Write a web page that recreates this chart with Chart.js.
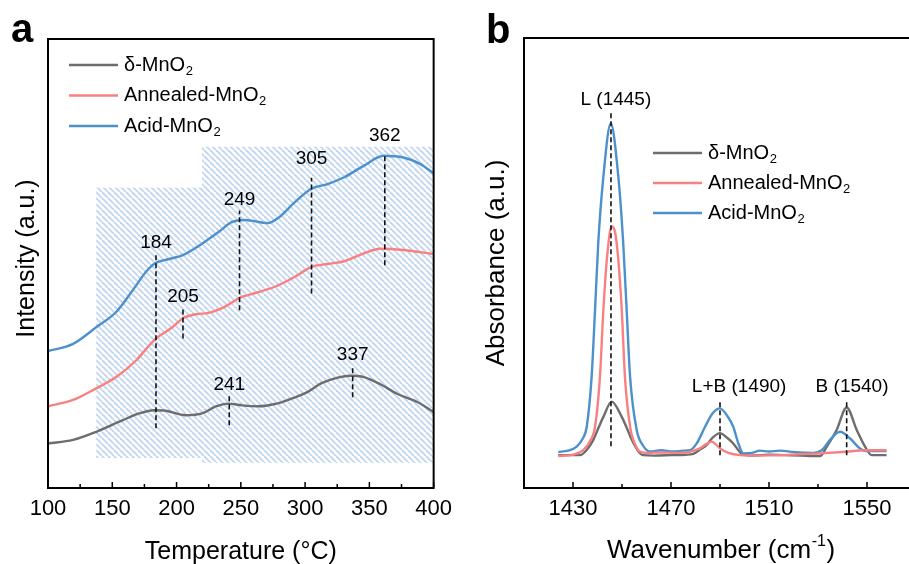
<!DOCTYPE html>
<html lang="en">
<head>
<meta charset="UTF-8">
<title>MnO2 NH3-TPD and Py-IR</title>
<script src="https://cdn.jsdelivr.net/npm/chart.js"></script>
<style>
  html, body { margin: 0; padding: 0; background: #fff; overflow: hidden; }
  #wrap { position: relative; width: 909px; height: 564px; overflow: hidden; }
  #chartA { position: absolute; left: 0; top: 0; }
  #chartB { position: absolute; left: 480px; top: 0; }
</style>
</head>
<body>
<div id="wrap">
  <canvas id="chartA" width="460" height="564"></canvas>
  <canvas id="chartB" width="450" height="564"></canvas>
</div>
<script>
// ---------- shared ----------
var seriesNames = ['δ-MnO2', 'Annealed-MnO2', 'Acid-MnO2'];
var seriesColors = ['#6d6d6d', '#f98080', '#4d91cc'];
var FONT = '"Liberation Sans", Arial, sans-serif';

// ---------- panel a : temperature programmed desorption ----------
var tempTicks = [100, 150, 200, 250, 300, 350, 400];
var tempMinor = [125, 175, 225, 275, 325, 375];

var tempGray = [100, 119.5, 137.5, 158.1, 170.9, 182.5, 191.5, 207, 219.8, 230.1, 240.4, 250.7, 263.6, 276.4, 289.3, 302.1, 312.4, 325.3, 335.6, 345.8, 358.6, 371.5, 386.9, 400];
var intGray  = [9.9, 10.7, 12.5, 15.1, 16.6, 17.3, 17.2, 16.2, 16.6, 18.1, 18.8, 18.4, 18.2, 18.7, 19.9, 21.4, 23.3, 24.6, 25.0, 24.7, 23.1, 21.0, 19.2, 16.9];

var tempRed = [100, 119.5, 137.5, 153, 168.5, 182.5, 196.7, 204.4, 214.7, 224.9, 237.8, 249.4, 263.5, 278.9, 291.8, 304.6, 317.5, 330.4, 343.2, 358.6, 376.6, 400];
var intRed  = [18.2, 19.6, 22.2, 24.7, 28.4, 32.9, 35.8, 37.7, 38.7, 39.0, 40.4, 42.4, 43.6, 45.1, 47.0, 49.2, 49.9, 50.5, 52.0, 53.3, 53.0, 52.1];

var tempBlue = [100, 119.5, 137.5, 153, 165.8, 176.1, 182.5, 194.1, 204.4, 219.8, 232.6, 242.9, 253.2, 271.2, 278.9, 291.8, 304.6, 317.5, 330.4, 345.8, 361.2, 376.6, 389.4, 400];
var intBlue  = [30.5, 32.1, 35.8, 39.2, 44.0, 48.1, 49.9, 51.0, 51.8, 54.4, 57.0, 59.2, 59.7, 59.0, 60.1, 63.6, 66.6, 67.7, 69.2, 71.8, 74.0, 73.6, 72.2, 70.1];

// peak markers
var peakT      = [184, 205, 249, 305, 362, 241, 337];
var peakTop    = [52.4, 40.2, 61.8, 69.1, 74.4, 20.7, 27.3];
var peakBottom = [13.3, 33.3, 39.6, 43.3, 49.6, 14.0, 20.2];
var peakLabelY = [54.7, 42.7, 64.2, 73.3, 78.4, 22.9, 29.6];

// hatched regions
var hatchFrom   = [137.5, 219.8];
var hatchTo     = [219.8, 400];
var hatchTop    = [66.9, 76.0];
var hatchBottom = [6.7, 5.6];

// ---------- panel b : pyridine IR ----------
var wnTicks = [1430, 1470, 1510, 1550];
var wnMinor = [1450, 1490, 1530];

var wnGray  = [1424, 1429, 1432.9, 1435.5, 1438.3, 1440.5, 1442.4, 1445.8, 1449.9, 1452, 1454.0, 1456.5, 1458.7, 1463, 1470, 1476, 1479.1, 1482, 1484.6, 1487, 1490.0, 1493, 1495.4, 1498.9, 1503, 1510, 1516, 1523, 1528.1, 1530.8, 1533.6, 1537.6, 1541.7, 1545.8, 1549.2, 1551.9, 1555, 1558];
var absGray = [7.3, 7.3, 7.3, 8.4, 10.7, 13.5, 15.8, 19.2, 15.8, 13.3, 10.7, 8.3, 7.3, 7.2, 7.3, 7.4, 7.6, 8.6, 9.6, 11.2, 12.2, 11.1, 9.9, 7.6, 7.2, 7.4, 7.3, 7.2, 7.1, 7.1, 9.2, 12.9, 17.9, 12.9, 9.2, 7.3, 7.3, 7.3];

var wnRed  = [1424, 1430, 1434.2, 1437, 1439.0, 1441.0, 1442.4, 1443.8, 1445.8, 1447.2, 1448.5, 1449.9, 1451.2, 1453.3, 1455.5, 1457.3, 1461, 1466, 1472, 1478, 1481.8, 1484.5, 1486.6, 1488.5, 1490.0, 1493.4, 1498.2, 1505, 1514.5, 1522, 1530.8, 1540, 1549.9, 1558];
var absRed = [7.1, 7.4, 8.4, 10.5, 13.6, 24.7, 39.6, 50.7, 58.1, 56.8, 50.7, 39.6, 24.7, 13.6, 9.5, 8.1, 7.8, 7.9, 7.8, 8.1, 8.8, 9.8, 10.3, 9.6, 8.8, 7.8, 7.3, 7.2, 7.3, 7.5, 7.7, 8.0, 8.4, 8.4];

var wnBlue  = [1424, 1428, 1431.5, 1434, 1435.6, 1437.6, 1439.0, 1440.3, 1442.4, 1445.4, 1448.5, 1450.5, 1451.9, 1453.3, 1456.0, 1458.5, 1461.4, 1466, 1470.8, 1475, 1477.8, 1480.5, 1483.9, 1487, 1490.0, 1493, 1495.4, 1497.5, 1499.5, 1503, 1506.3, 1510, 1514.5, 1520, 1528.1, 1531.5, 1534.9, 1539.0, 1543.1, 1547.1, 1549.9, 1554, 1558];
var absBlue = [8.0, 8.3, 9.2, 11.0, 13.6, 24.7, 39.6, 54.4, 69.2, 81.0, 69.2, 54.4, 39.6, 24.7, 12.9, 9.5, 8.1, 8.4, 8.1, 8.3, 8.4, 9.9, 13.6, 16.6, 17.7, 16.0, 13.6, 9.9, 7.7, 7.8, 8.3, 8.1, 8.3, 8.0, 7.8, 8.4, 10.7, 12.5, 11.0, 8.8, 8.2, 8.2, 8.2];

var bandWn     = [1445.5, 1490, 1541.7];
var bandTop    = [83.3, 19.6, 19.6];
var bandBottom = [9.3, 7.3, 7.3];
var bandLabels = ['L (1445)', 'L+B (1490)', 'B (1540)'];
var bandLabelX = [1447.5, 1497.8, 1543.9];
var bandLabelY = [86.2, 22.4, 22.4];

// ---------- helpers ----------
function pts(xs, ys) {
  return xs.map(function (x, i) { return { x: x, y: ys[i] }; });
}

function curve(name, color, xs, ys) {
  return {
    label: name, data: pts(xs, ys), borderColor: color, borderWidth: 2.4,
    pointRadius: 0, cubicInterpolationMode: 'monotone', fill: false, order: 1
  };
}

function dashLine(x, y0, y1) {
  return {
    label: 'marker', data: [{ x: x, y: y0 }, { x: x, y: y1 }], borderColor: '#111',
    borderWidth: 1.6, borderDash: [5, 3], pointRadius: 0, fill: false, order: 0
  };
}

function hatchPattern(ctx) {
  var c = document.createElement('canvas');
  c.width = 6; c.height = 6;
  var p = c.getContext('2d');
  p.strokeStyle = '#c3d6f0';
  p.lineWidth = 1.9;
  for (var k = -1; k <= 1; k++) {
    p.beginPath(); p.moveTo(k * 6, 0); p.lineTo(k * 6 + 6, 6); p.stroke();
  }
  return ctx.createPattern(c, 'repeat');
}

// text with last char as subscript (MnO2)
function subText(ctx, x, y, text, size) {
  var base = text.slice(0, -1), sub = text.slice(-1);
  ctx.textAlign = 'left';
  ctx.textBaseline = 'middle';
  ctx.font = size + 'px ' + FONT;
  ctx.fillText(base, x, y);
  var w = ctx.measureText(base).width;
  ctx.font = Math.round(size * 0.66) + 'px ' + FONT;
  ctx.fillText(sub, x + w + 0.5, y + size * 0.32);
}

function drawFrameAndTicks(chart, majors, minors) {
  var ctx = chart.ctx, a = chart.chartArea, xs = chart.scales.x;
  ctx.save();
  ctx.strokeStyle = '#000';
  ctx.lineWidth = 2;
  ctx.strokeRect(a.left, a.top, a.right - a.left, a.bottom - a.top);
  ctx.lineWidth = 1.5;
  ctx.beginPath();
  majors.forEach(function (v) {
    var px = xs.getPixelForValue(v);
    ctx.moveTo(px, a.bottom); ctx.lineTo(px, a.bottom - 6);
  });
  minors.forEach(function (v) {
    var px = xs.getPixelForValue(v);
    ctx.moveTo(px, a.bottom); ctx.lineTo(px, a.bottom - 4);
  });
  ctx.stroke();
  ctx.restore();
}

function drawLegend(ctx, x, y, gap, size) {
  for (var i = 0; i < seriesNames.length; i++) {
    var yy = y + i * gap;
    ctx.strokeStyle = seriesColors[i];
    ctx.lineWidth = 2.5;
    ctx.beginPath(); ctx.moveTo(x, yy); ctx.lineTo(x + 49, yy); ctx.stroke();
    ctx.fillStyle = '#000';
    subText(ctx, x + 55, yy, seriesNames[i], size);
  }
}

function panelLetter(ctx, letter, x, y) {
  ctx.fillStyle = '#000';
  ctx.font = 'bold 40px ' + FONT;
  ctx.textAlign = 'left';
  ctx.textBaseline = 'alphabetic';
  ctx.fillText(letter, x, y);
}

function yTitle(ctx, text, x, y, size) {
  ctx.save();
  ctx.translate(x, y);
  ctx.rotate(-Math.PI / 2);
  ctx.fillStyle = '#000';
  ctx.font = size + 'px ' + FONT;
  ctx.textAlign = 'center';
  ctx.textBaseline = 'middle';
  ctx.fillText(text, 0, 0);
  ctx.restore();
}

// ---------- panel a plugin ----------
var decorA = {
  id: 'decorA',
  beforeDatasetsDraw: function (chart) {
    var ctx = chart.ctx, xs = chart.scales.x, ys = chart.scales.y;
    ctx.save();
    ctx.fillStyle = hatchPattern(ctx);
    for (var i = 0; i < hatchFrom.length; i++) {
      var x0 = xs.getPixelForValue(hatchFrom[i]), x1 = xs.getPixelForValue(hatchTo[i]);
      var y0 = ys.getPixelForValue(hatchTop[i]), y1 = ys.getPixelForValue(hatchBottom[i]);
      ctx.fillRect(x0, y0, x1 - x0, y1 - y0);
    }
    ctx.restore();
  },
  afterDraw: function (chart) {
    var ctx = chart.ctx, a = chart.chartArea, xs = chart.scales.x, ys = chart.scales.y;
    drawFrameAndTicks(chart, tempTicks, tempMinor);
    ctx.save();
    ctx.fillStyle = '#000';
    ctx.font = '19px ' + FONT;
    ctx.textAlign = 'center';
    ctx.textBaseline = 'middle';
    for (var i = 0; i < peakT.length; i++) {
      ctx.fillText(String(peakT[i]), xs.getPixelForValue(peakT[i]), ys.getPixelForValue(peakLabelY[i]));
    }
    drawLegend(ctx, a.left + 21, a.top + 26, 30.5, 20);
    ctx.font = '25px ' + FONT;
    ctx.textAlign = 'center';
    ctx.textBaseline = 'middle';
    ctx.fillText('Temperature (°C)', (a.left + a.right) / 2, 552);
    yTitle(ctx, 'Intensity (a.u.)', 27, (a.top + a.bottom) / 2 - 5, 25);
    panelLetter(ctx, 'a', 11, 42);
    ctx.restore();
  }
};

// ---------- panel b plugin ----------
var decorB = {
  id: 'decorB',
  afterDraw: function (chart) {
    var ctx = chart.ctx, a = chart.chartArea, xs = chart.scales.x, ys = chart.scales.y;
    drawFrameAndTicks(chart, wnTicks, wnMinor);
    ctx.save();
    ctx.fillStyle = '#000';
    ctx.font = '19px ' + FONT;
    ctx.textAlign = 'center';
    ctx.textBaseline = 'middle';
    for (var i = 0; i < bandLabels.length; i++) {
      ctx.fillText(bandLabels[i], xs.getPixelForValue(bandLabelX[i]), ys.getPixelForValue(bandLabelY[i]));
    }
    drawLegend(ctx, a.left + 129, a.top + 115, 30, 20);

    // x title with superscript
    var size = 26, cx = (a.left + a.right) / 2 + 1, cy = 551;
    var t1 = 'Wavenumber (cm', sup = '-1', t2 = ')';
    ctx.font = size + 'px ' + FONT;
    var w1 = ctx.measureText(t1).width, w3 = ctx.measureText(t2).width;
    ctx.font = Math.round(size * 0.62) + 'px ' + FONT;
    var w2 = ctx.measureText(sup).width;
    var x = cx - (w1 + w2 + w3 + 1) / 2;
    ctx.textAlign = 'left';
    ctx.font = size + 'px ' + FONT;
    ctx.fillText(t1, x, cy);
    ctx.font = Math.round(size * 0.62) + 'px ' + FONT;
    ctx.fillText(sup, x + w1 + 0.5, cy - size * 0.36);
    ctx.font = size + 'px ' + FONT;
    ctx.fillText(t2, x + w1 + w2 + 1, cy);

    yTitle(ctx, 'Absorbance (a.u.)', 17, 263, 26);
    panelLetter(ctx, 'b', 6, 43);
    ctx.restore();
  }
};

function xAxis(min, max, ticks, height) {
  return {
    type: 'linear', min: min, max: max,
    grid: { display: false, drawTicks: false },
    border: { display: false },
    afterBuildTicks: function (scale) {
      scale.ticks = ticks.map(function (v) { return { value: v }; });
    },
    afterFit: function (scale) { scale.height = height; },
    ticks: {
      color: '#000', font: { family: FONT, size: 22 }, padding: 8, maxRotation: 0, autoSkip: false,
      callback: function (v) { return String(v); }
    }
  };
}

function yAxis(width) {
  return {
    min: 0, max: 100,
    grid: { display: false, drawTicks: false },
    border: { display: false },
    ticks: { display: false },
    afterFit: function (scale) { scale.width = width; }
  };
}

// ---------- build charts ----------
var dsA = [
  curve(seriesNames[0], seriesColors[0], tempGray, intGray),
  curve(seriesNames[1], seriesColors[1], tempRed, intRed),
  curve(seriesNames[2], seriesColors[2], tempBlue, intBlue)
];
for (var i = 0; i < peakT.length; i++) dsA.push(dashLine(peakT[i], peakBottom[i], peakTop[i]));

new Chart(document.getElementById('chartA'), {
  type: 'line',
  data: { datasets: dsA },
  options: {
    responsive: false, animation: false, events: [],
    layout: { padding: { top: 39, right: 23, left: 0, bottom: 0 } },
    scales: { x: xAxis(100, 400, tempTicks, 76), y: yAxis(48) },
    plugins: { legend: { display: false }, tooltip: { enabled: false } }
  },
  plugins: [decorA]
});

var dsB = [
  curve(seriesNames[1], seriesColors[1], wnRed, absRed),
  curve(seriesNames[2], seriesColors[2], wnBlue, absBlue),
  curve(seriesNames[0], seriesColors[0], wnGray, absGray)
];
for (var j = 0; j < bandWn.length; j++) dsB.push(dashLine(bandWn[j], bandBottom[j], bandTop[j]));

new Chart(document.getElementById('chartB'), {
  type: 'line',
  data: { datasets: dsB },
  options: {
    responsive: false, animation: false, events: [],
    layout: { padding: { top: 38, right: 14, left: 0, bottom: 0 } },
    scales: { x: xAxis(1410, 1570, wnTicks, 76), y: yAxis(44) },
    plugins: { legend: { display: false }, tooltip: { enabled: false } }
  },
  plugins: [decorB]
});
</script>
</body>
</html>
